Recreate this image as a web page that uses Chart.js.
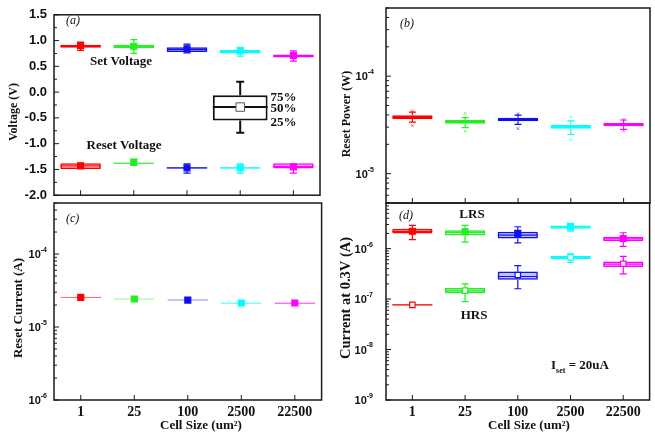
<!DOCTYPE html>
<html>
<head>
<meta charset="utf-8">
<script src="https://cdn.jsdelivr.net/npm/chart.js@4.4.1/dist/chart.umd.min.js"></script>
<style>
body { margin: 0; background: #fff; }
#wrap { position: relative; width: 655px; height: 433px; overflow: hidden; }
canvas { position: absolute; }
</style>
</head>
<body>
<div id="wrap">
  <canvas id="chartA" width="327" height="210" style="left:0px;top:0px"></canvas>
  <canvas id="chartB" width="328" height="210" style="left:327px;top:0px"></canvas>
  <canvas id="chartC" width="327" height="238" style="left:0px;top:195px"></canvas>
  <canvas id="chartD" width="328" height="238" style="left:327px;top:195px"></canvas>
</div>
<script>
/*---- data ----*/
const cellSizes = ['1', '25', '100', '2500', '22500'];
const colors = ['#ff0000', '#22ee22', '#1010ee', '#00ffff', '#ff00ff'];

// (a) voltage
const setBox = [[0.86, 0.92], [0.85, 0.92], [0.78, 0.87], [0.76, 0.82], [0.67, 0.73]];
const setMedian = [0.89, 0.89, 0.83, 0.79, 0.70];
const setWhisker = [[0.81, 0.97], [0.75, 1.02], [0.76, 0.93], [0.70, 0.87], [0.60, 0.80]];
const setMean = [0.90, 0.89, 0.84, 0.80, 0.71];

const resetBox = [[-1.49, -1.38], [-1.385, -1.37], [-1.48, -1.465], [-1.48, -1.465], [-1.48, -1.38]];
const resetMedian = [-1.43, -1.38, -1.47, -1.47, -1.44];
const resetWhisker = [[-1.49, -1.38], [-1.42, -1.30], [-1.57, -1.39], [-1.57, -1.39], [-1.57, -1.38]];
const resetMean = [-1.43, -1.36, -1.47, -1.47, -1.45];

// box key drawn inside (a)
const keyBox = [null, null, null, [-0.55, -0.06], null];
const keyMedian = [null, null, null, -0.29, null];
const keyWhisker = [null, null, null, [-0.79, 0.2], null];
const keyMean = [null, null, null, -0.29, null];
const keyLabels = ['75%', '50%', '25%'];

// (b) reset power
const powerBox = [[3.63e-5, 3.98e-5], [3.25e-5, 3.55e-5], [3.44e-5, 3.75e-5], [2.89e-5, 3.18e-5], [3.06e-5, 3.31e-5]];
const powerMedian = [3.8e-5, 3.4e-5, 3.6e-5, 3.0e-5, 3.18e-5];
const powerWhisker = [[3.38e-5, 4.28e-5], [2.96e-5, 3.75e-5], [3.2e-5, 3.99e-5], [2.52e-5, 3.47e-5], [2.85e-5, 3.55e-5]];
const powerOutHi = [4.4e-5, 4.15e-5, 4.1e-5, 3.84e-5, 3.6e-5];
const powerOutLo = [3.1e-5, 2.72e-5, 2.9e-5, 2.24e-5, 2.75e-5];

// (c) reset current
const currentBox = [[2.51e-5, 2.59e-5], [2.38e-5, 2.46e-5], [2.3e-5, 2.38e-5], [2.09e-5, 2.17e-5], [2.09e-5, 2.17e-5]];
const currentMean = [2.55e-5, 2.42e-5, 2.34e-5, 2.13e-5, 2.13e-5];

// (d) current at 0.3V
const lrsBox = [[1.99e-6, 2.46e-6], [1.82e-6, 2.32e-6], [1.58e-6, 2.15e-6], [2.47e-6, 2.88e-6], [1.40e-6, 1.71e-6]];
const lrsMedian = [2.2e-6, 2.1e-6, 1.85e-6, 2.7e-6, 1.55e-6];
const lrsWhisker = [[1.51e-6, 2.88e-6], [1.34e-6, 2.88e-6], [1.3e-6, 2.71e-6], [2.22e-6, 3.16e-6], [1.11e-6, 2.06e-6]];
const lrsMean = [2.21e-6, 2.15e-6, 2.0e-6, 2.71e-6, 1.58e-6];

const hrsBox = [[7.5e-8, 7.8e-8], [1.31e-7, 1.65e-7], [2.4e-7, 3.52e-7], [6.24e-7, 7.25e-7], [4.3e-7, 5.57e-7]];
const hrsMedian = [7.67e-8, 1.45e-7, 2.8e-7, 6.7e-7, 4.9e-7];
const hrsWhisker = [[7.5e-8, 7.8e-8], [8.9e-8, 2.0e-7], [1.6e-7, 4.6e-7], [5.3e-7, 7.9e-7], [3.16e-7, 7.0e-7]];
const hrsMean = [7.67e-8, 1.47e-7, 3.0e-7, 6.7e-7, 5.0e-7];

// log axis labels
const powerTicks = [1e-5, 1e-4];
const currentTicks = [1e-6, 1e-5, 1e-4];
const readTicks = [1e-9, 1e-8, 1e-7, 1e-6];

const serif = '"Liberation Serif", "Times New Roman", serif';
const sans = '"Liberation Sans", Arial, sans-serif';

/*---- per panel texts ----*/
const extras = {
  chartA: {
    minorStep: 0.25, majorStep: 0.5,
    yTitle: { text: 'Voltage (V)', x: 13.5, y: 112, size: 12 },
    texts: [
      { parts: [{ t: '(a)' }], x: 66, y: 21, font: 'italic 12px ' + serif },
      { parts: [{ t: 'Set Voltage' }], x: 121, y: 62, center: true },
      { parts: [{ t: 'Reset Voltage' }], x: 124, y: 146, center: true }
    ]
  },
  chartB: {
    logTicks: powerTicks, gap: 12,
    yTitle: { text: 'Reset Power (W)', x: 20, y: 114, size: 12 },
    texts: [{ parts: [{ t: '(b)' }], x: 73, y: 24, font: 'italic 12px ' + serif }]
  },
  chartC: {
    logTicks: currentTicks, gap: 7,
    yTitle: { text: 'Reset Current (A)', x: 18.5, y: 113, size: 13 },
    xTitle: { x: 201, y: 231 },
    texts: [{ parts: [{ t: '(c)' }], x: 66, y: 24, font: 'italic 12px ' + serif }]
  },
  chartD: {
    logTicks: readTicks, gap: 13,
    yTitle: { text: 'Current at 0.3V (A)', x: 19.5, y: 103, size: 14.5 },
    xTitle: { x: 202, y: 231 },
    texts: [
      { parts: [{ t: '(d)' }], x: 72, y: 21, font: 'italic 12px ' + serif },
      { parts: [{ t: 'LRS' }], x: 145, y: 20, center: true },
      { parts: [{ t: 'HRS' }], x: 147, y: 121, center: true },
      { parts: [{ t: 'I' }, { t: 'set', sub: true }, { t: ' = 20uA' }], x: 224, y: 171 }
    ]
  }
};

function drawParts(ctx, item) {
  const font = item.font || 'bold 13px ' + serif;
  const subFont = 'bold 8px ' + serif;
  let w = 0;
  item.parts.forEach(p => { ctx.font = p.sub ? subFont : font; w += ctx.measureText(p.t).width; });
  let x = item.center ? item.x - w / 2 : item.x;
  ctx.textAlign = 'left';
  ctx.textBaseline = 'middle';
  item.parts.forEach(p => {
    ctx.font = p.sub ? subFont : font;
    ctx.fillText(p.t, x, p.sub ? item.y + 5 : item.y);
    x += ctx.measureText(p.t).width;
  });
}

const boxExtras = {
  id: 'boxExtras',
  afterDatasetDraw(chart, args) {
    const ds = chart.data.datasets[args.index];
    if (!ds.whiskers && !ds.medians) return;
    const ctx = chart.ctx, ys = chart.scales.y;
    args.meta.data.forEach((bar, i) => {
      const v = ds.data[i];
      if (!v) return;
      const col = Array.isArray(ds.borderColor) ? ds.borderColor[i] : ds.borderColor;
      const half = bar.width / 2;
      ctx.save();
      ctx.strokeStyle = col;
      ctx.lineWidth = ds.lineW || 1.2;
      ctx.beginPath();
      if (ds.medians && ds.medians[i] != null) {
        const ym = ys.getPixelForValue(ds.medians[i]);
        ctx.moveTo(bar.x - half, ym); ctx.lineTo(bar.x + half, ym);
      }
      if (ds.whiskers && ds.whiskers[i]) {
        const lo = ds.whiskers[i][0], hi = ds.whiskers[i][1];
        const yTop = ys.getPixelForValue(Math.max(v[0], v[1]));
        const yBot = ys.getPixelForValue(Math.min(v[0], v[1]));
        const yHi = ys.getPixelForValue(hi), yLo = ys.getPixelForValue(lo);
        const c = ds.capW || 3.5;
        if (yHi < yTop - 0.5) {
          ctx.moveTo(bar.x, yTop); ctx.lineTo(bar.x, yHi);
          ctx.moveTo(bar.x - c, yHi); ctx.lineTo(bar.x + c, yHi);
        }
        if (yLo > yBot + 0.5) {
          ctx.moveTo(bar.x, yBot); ctx.lineTo(bar.x, yLo);
          ctx.moveTo(bar.x - c, yLo); ctx.lineTo(bar.x + c, yLo);
        }
      }
      ctx.stroke();
      if (ds.sideLabels) {
        const ys3 = [Math.max(v[0], v[1]), ds.medians[i], Math.min(v[0], v[1])];
        ctx.fillStyle = '#111';
        ds.sideLabels.forEach((t, k) => {
          drawParts(ctx, { parts: [{ t }], x: bar.x + half + 3, y: ys.getPixelForValue(ys3[k]) + 2 });
        });
      }
      ctx.restore();
    });
  },
  afterDraw(chart) {
    const ex = extras[chart.canvas.id];
    const ctx = chart.ctx, a = chart.chartArea, xs = chart.scales.x, ys = chart.scales.y;
    ctx.save();
    ctx.strokeStyle = '#1a1a1a';
    ctx.fillStyle = '#111';
    ctx.lineWidth = 1;
    ctx.beginPath();
    if (ex.logTicks) {
      const lo = Math.floor(Math.log10(ys.min)), hi = Math.ceil(Math.log10(ys.max));
      for (let e = lo; e <= hi; e++) {
        for (let m = 1; m < 10; m++) {
          const val = m * Math.pow(10, e);
          if (val < ys.min * 0.999 || val > ys.max * 1.001) continue;
          const y = ys.getPixelForValue(val);
          ctx.moveTo(a.left, y); ctx.lineTo(a.left + (m === 1 ? 5 : 3), y);
        }
      }
    } else {
      for (let val = ys.min; val <= ys.max + 1e-9; val += ex.minorStep) {
        const y = ys.getPixelForValue(val);
        const r = val / ex.majorStep;
        const major = Math.abs(r - Math.round(r)) < 1e-6;
        ctx.moveTo(a.left, y); ctx.lineTo(a.left + (major ? 5 : 3), y);
      }
    }
    xs.ticks.forEach((t, i) => {
      const x = xs.getPixelForTick(i);
      ctx.moveTo(x, a.bottom); ctx.lineTo(x, a.bottom - 5);
    });
    ctx.stroke();
    ctx.lineWidth = 1.5;
    ctx.strokeRect(a.left, a.top, a.right - a.left, a.bottom - a.top);

    // log tick labels 10^n
    if (ex.logTicks) {
      ex.logTicks.forEach(val => {
        const y = ys.getPixelForValue(val);
        const exp = String(Math.round(Math.log10(val)));
        ctx.textBaseline = 'middle';
        ctx.textAlign = 'right';
        ctx.font = 'bold 7px ' + sans;
        const ew = ctx.measureText(exp).width;
        ctx.fillText(exp, a.left - ex.gap, y - 4);
        ctx.font = 'bold 11px ' + sans;
        ctx.fillText('10', a.left - ex.gap - ew, y + 1);
      });
    }
    // axis titles
    const yt = ex.yTitle;
    ctx.save();
    ctx.translate(yt.x, yt.y);
    ctx.rotate(-Math.PI / 2);
    ctx.font = 'bold ' + yt.size + 'px ' + serif;
    ctx.textAlign = 'center';
    ctx.textBaseline = 'middle';
    ctx.fillText(yt.text, 0, 0);
    ctx.restore();
    if (ex.xTitle) {
      drawParts(ctx, { parts: [{ t: 'Cell Size (um²)' }], x: ex.xTitle.x, y: ex.xTitle.y, center: true });
    }
    ex.texts.forEach(item => drawParts(ctx, item));
    ctx.restore();
  }
};

/*---- dataset helpers ----*/
function boxSet(box, med, whisk, cols, extra) {
  return Object.assign({
    type: 'bar', data: box, medians: med, whiskers: whisk,
    backgroundColor: cols.map(c => c + '40'), borderColor: cols, borderWidth: 1.5,
    borderSkipped: false, grouped: false, barPercentage: 0.76, categoryPercentage: 1, order: 3
  }, extra || {});
}
function pointSet(data, fill, border, extra) {
  return Object.assign({
    type: 'line', data, showLine: false, pointStyle: 'rect', pointRadius: 4.2,
    pointBackgroundColor: fill, pointBorderColor: border, pointBorderWidth: 1.2, order: 1
  }, extra || {});
}

function makeChart(id, datasets, yOpts, xShow, padRight, yWidth) {
  const xOpts = {
    type: 'category', offset: true, display: xShow,
    grid: { display: false, drawTicks: false }, border: { display: false },
    ticks: { color: '#111', font: { family: serif, size: 14, weight: 'bold' }, padding: 4, maxRotation: 0 }
  };
  if (xShow) xOpts.afterFit = s => { s.height = 33; };
  return new Chart(document.getElementById(id), {
    type: 'bar',
    data: { labels: cellSizes, datasets },
    options: {
      responsive: false,
      animation: false,
      layout: { padding: { top: 8, right: padRight, bottom: xShow ? 0 : 7, left: 0 } },
      plugins: { legend: { display: false }, tooltip: { enabled: false } },
      scales: {
        x: xOpts,
        y: Object.assign({
          grid: { display: false, drawTicks: false }, border: { display: false },
          afterFit: s => { s.width = yWidth; }
        }, yOpts)
      }
    },
    plugins: [boxExtras]
  });
}

const blacks = cellSizes.map(() => '#111111');
const whites = cellSizes.map(() => '#ffffff');

/*---- (a) ----*/
makeChart('chartA', [
  boxSet(setBox, setMedian, setWhisker, colors),
  boxSet(resetBox, resetMedian, resetWhisker, colors, { backgroundColor: colors.map(c => c + '18') }),
  boxSet(keyBox, keyMedian, keyWhisker, blacks, {
    backgroundColor: whites, borderWidth: 2, lineW: 2, capW: 4, barPercentage: 1.03, sideLabels: keyLabels
  }),
  pointSet(setMean, colors, colors),
  pointSet(resetMean, colors, colors),
  pointSet(keyMean, whites, blacks, { pointRadius: 6, pointBorderColor: '#555555', pointBorderWidth: 1 })
], {
  type: 'linear', min: -2, max: 1.5,
  ticks: {
    stepSize: 0.5, padding: 7, color: '#111',
    font: { family: sans, size: 13, weight: 'bold' },
    callback: v => v.toFixed(1)
  }
}, false, 5, 54);

/*---- (b) ----*/
makeChart('chartB', [
  boxSet(powerBox, powerMedian, powerWhisker, colors, { borderWidth: 2 }),
  pointSet(powerOutHi, colors.map(c => c + '90'), colors.map(c => c + '90'), { pointStyle: 'crossRot', pointRadius: 2, pointBorderWidth: 1 }),
  pointSet(powerOutLo, colors.map(c => c + '90'), colors.map(c => c + '90'), { pointStyle: 'crossRot', pointRadius: 2, pointBorderWidth: 1 })
], {
  type: 'logarithmic', min: 5e-6, max: 5e-4, ticks: { display: false }
}, false, 2, 59);

/*---- (c) ----*/
makeChart('chartC', [
  boxSet(currentBox, null, null, colors, { borderWidth: 1.2, backgroundColor: colors }),
  pointSet(currentMean, colors, colors)
], {
  type: 'logarithmic', min: 1e-6, max: 5e-4, ticks: { display: false }
}, true, 5, 54);

/*---- (d) ----*/
makeChart('chartD', [
  boxSet(lrsBox, lrsMedian, lrsWhisker, colors),
  boxSet(hrsBox, hrsMedian, hrsWhisker, colors),
  pointSet(lrsMean, colors, colors),
  pointSet(hrsMean, whites, colors, { pointRadius: 3.8 })
], {
  type: 'logarithmic', min: 1e-9, max: 8e-6, ticks: { display: false }
}, true, 2, 59);
</script>
</body>
</html>
